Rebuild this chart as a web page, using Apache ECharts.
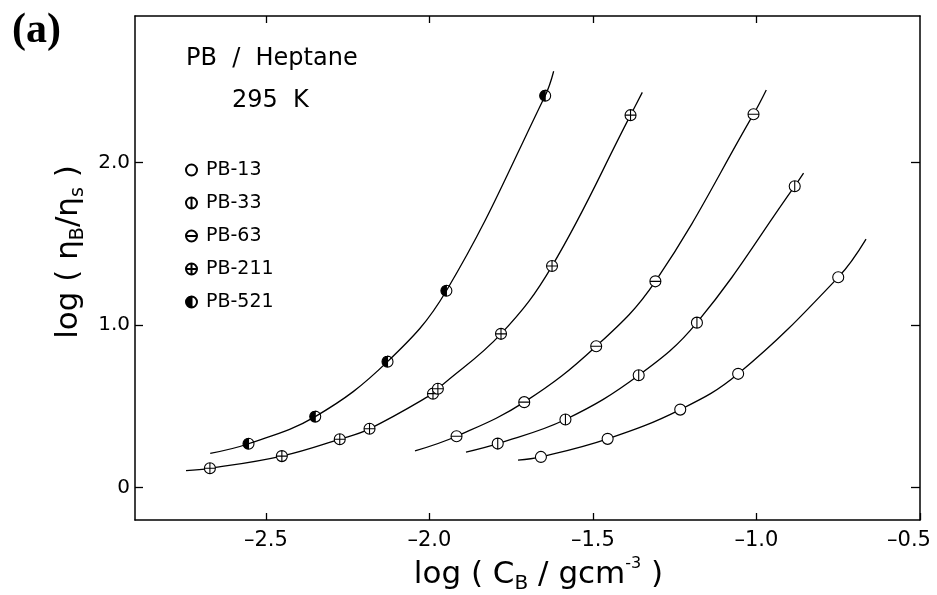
<!DOCTYPE html>
<html>
<head>
<meta charset="utf-8">
<script src="https://cdn.jsdelivr.net/npm/echarts@6/dist/echarts.min.js"></script>
<style>
  html, body { margin: 0; padding: 0; background: #fff; }
  #main { width: 937px; height: 595px; }
</style>
</head>
<body>
<div id="main"></div>
<script>
// values: log(C_B / g cm^-3) vs log(eta_B / eta_s)
const seriesNames = ['PB-13', 'PB-33', 'PB-63', 'PB-211', 'PB-521'];

const pb13X = [-1.659, -1.455, -1.233, -1.056, -0.750];
const pb13Y = [0.188, 0.299, 0.479, 0.699, 1.293];
const pb33X = [-1.791, -1.584, -1.360, -1.182, -0.883];
const pb33Y = [0.270, 0.418, 0.690, 1.014, 1.853];
const pb63X = [-1.917, -1.710, -1.490, -1.309, -1.009];
const pb63Y = [0.315, 0.525, 0.869, 1.268, 2.296];
const pb211X = [-2.671, -2.451, -2.274, -2.183, -1.989, -1.974, -1.781, -1.625, -1.385];
const pb211Y = [0.118, 0.193, 0.297, 0.361, 0.577, 0.607, 0.945, 1.362, 2.290];
const pb521X = [-2.553, -2.349, -2.128, -1.948, -1.646];
const pb521Y = [0.269, 0.436, 0.774, 1.210, 2.410];

// where each fitted curve starts and ends
const curveStart = [[-1.729, 0.168], [-1.888, 0.218], [-2.044, 0.225], [-2.744, 0.104], [-2.670, 0.210]];
const curveEnd = [[-0.665, 1.528], [-0.856, 1.933], [-0.970, 2.445], [-1.349, 2.430], [-1.620, 2.560]];

const xTicks = [-2.5, -2.0, -1.5, -1.0, -0.5];
const yTicks = [0, 1.0, 2.0];

const circle = 'M-10,0 A10,10 0 1,1 10,0 A10,10 0 1,1 -10,0 Z';
const symbols = [
  'path://' + circle,
  'path://' + circle + ' M0,-10 L0,10',
  'path://' + circle + ' M-10,0 L10,0',
  'path://' + circle + ' M0,-10 L0,10 M-10,0 L10,0',
  // full circle clockwise + right half anticlockwise -> only left half filled
  'path://M0,-10 A10,10 0 1,1 0,10 A10,10 0 1,1 0,-10 Z M0,-10 L0,10 A10,10 0 0,0 0,-10 Z'
];
const fills = ['#fff', '#fff', '#fff', '#fff', '#000'];

const allX = [pb13X, pb33X, pb63X, pb211X, pb521X];
const allY = [pb13Y, pb33Y, pb63Y, pb211Y, pb521Y];

const font = 'DejaVu Sans';
const fmt = function (v) {
  if (v === 0) return '0';
  const s = v.toFixed(1).replace('-', '\u2013');
  return v === -0.5 ? '{last|' + s + '}' : s;
};

const series = [];
allX.forEach((xs, i) => {
  const pts = xs.map((x, k) => [x, allY[i][k]]);
  series.push({
    name: seriesNames[i] + ' fit',
    type: 'line',
    data: [curveStart[i]].concat(pts, [curveEnd[i]]),
    smooth: 0.4,
    showSymbol: false,
    silent: true,
    lineStyle: { color: '#000', width: 1.3 },
    z: 2
  });
});
allX.forEach((xs, i) => {
  series.push({
    name: seriesNames[i],
    type: 'scatter',
    data: xs.map((x, k) => [x, allY[i][k]]),
    symbol: symbols[i],
    symbolSize: 11,
    itemStyle: { color: fills[i], borderColor: '#000', borderWidth: 1.1, opacity: 1 },
    z: 5
  });
});

const chart = echarts.init(document.getElementById('main'));
chart.setOption({
  backgroundColor: '#fff',
  animation: false,
  grid: { left: 135, right: 17, top: 16, bottom: 75, outerBoundsMode: 'none' },
  legend: {
    data: seriesNames,
    orient: 'vertical',
    left: 180,
    top: 155,
    itemWidth: 11,
    itemHeight: 11,
    itemGap: 13,
    selectedMode: false,
    textStyle: { fontFamily: font, fontSize: 19, color: '#000', lineHeight: 20, padding: [0, 0, 0, 4] }
  },
  xAxis: [{
    type: 'value',
    min: -2.9,
    max: -0.5,
    name: '{n|log ( C}{sub|B}{n| / gcm}{sup|-3}{n| )}',
    nameLocation: 'middle',
    nameGap: 35,
    nameTextStyle: {
      padding: [0, 0, 0, 22],
      rich: {
        n: { fontFamily: font, fontSize: 31, color: '#000', lineHeight: 38, verticalAlign: 'middle' },
        sub: { fontFamily: font, fontSize: 20, color: '#000', lineHeight: 38, verticalAlign: 'bottom' },
        sup: { fontFamily: font, fontSize: 16, color: '#000', lineHeight: 38, verticalAlign: 'top' }
      }
    },
    axisLine: { onZero: false, lineStyle: { color: '#000', width: 1.5 } },
    axisTick: { inside: true, length: 7, customValues: xTicks, lineStyle: { color: '#000', width: 1.3 } },
    axisLabel: {
      customValues: xTicks, formatter: fmt, fontFamily: font, fontSize: 21, color: '#000', margin: 10,
      rich: { last: { fontFamily: font, fontSize: 21, color: '#000', padding: [0, 22, 0, 0] } }
    },
    splitLine: { show: false }
  }, {
    type: 'value',
    position: 'top',
    min: -2.9,
    max: -0.5,
    axisLine: { onZero: false, lineStyle: { color: '#000', width: 1.5 } },
    axisTick: { inside: true, length: 7, customValues: xTicks.slice(0, 4), lineStyle: { color: '#000', width: 1.3 } },
    axisLabel: { show: false },
    splitLine: { show: false }
  }],
  yAxis: [{
    type: 'value',
    min: -0.2,
    max: 2.9,
    name: '{n|log ( \u03b7}{sub|B}{n|/\u03b7}{sub|s}{n| )}',
    nameLocation: 'middle',
    nameGap: 35,
    nameRotate: 90,
    nameTextStyle: {
      padding: [0, 0, 0, 32],
      rich: {
        n: { fontFamily: font, fontSize: 31, color: '#000', lineHeight: 36, verticalAlign: 'middle' },
        sub: { fontFamily: font, fontSize: 19, color: '#000', lineHeight: 36, verticalAlign: 'bottom' }
      }
    },
    axisLine: { onZero: false, lineStyle: { color: '#000', width: 1.5 } },
    axisTick: { inside: true, length: 8, customValues: yTicks, lineStyle: { color: '#000', width: 1.3 } },
    axisLabel: { customValues: yTicks, formatter: fmt, fontFamily: font, fontSize: 20, color: '#000', margin: 5 },
    splitLine: { show: false }
  }, {
    type: 'value',
    position: 'right',
    min: -0.2,
    max: 2.9,
    axisLine: { onZero: false, lineStyle: { color: '#000', width: 1.5 } },
    axisTick: { inside: true, length: 9, customValues: yTicks, lineStyle: { color: '#000', width: 1.3 } },
    axisLabel: { show: false },
    splitLine: { show: false }
  }],
  graphic: [
    { type: 'text', left: 12, top: 10, style: { text: '(a)', fontFamily: 'Liberation Serif', fontWeight: 'bold', fontSize: 42, fill: '#000' } },
    { type: 'text', left: 186, top: 47, style: { text: 'PB  /  Heptane', fontFamily: font, fontSize: 24, fill: '#000' } },
    { type: 'text', left: 232, top: 89, style: { text: '295  K', fontFamily: font, fontSize: 24, fill: '#000' } }
  ],
  series: series
});
</script>
</body>
</html>
